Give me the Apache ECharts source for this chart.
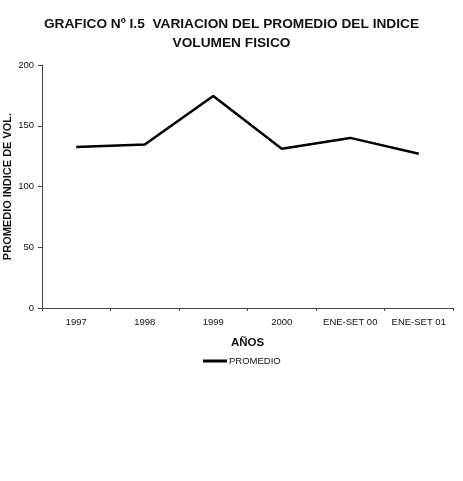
<!DOCTYPE html>
<html>
<head>
<meta charset="utf-8">
<script src="https://cdn.jsdelivr.net/npm/echarts@6/dist/echarts.min.js"></script>
<style>
  html, body { margin: 0; padding: 0; background: #fff; }
  #chart { width: 463px; height: 481px; }
</style>
</head>
<body>
<div id="chart"></div>
<script>
// datos
const categorias = ['1997', '1998', '1999', '2000', 'ENE-SET 00', 'ENE-SET 01']
const promedio = [132.5, 134.5, 174.5, 131, 140, 127]
const ticksY = [0, 50, 100, 150, 200]

const chart = echarts.init(document.getElementById('chart'))

const option = {
  backgroundColor: '#fff',
  textStyle: { fontFamily: 'Liberation Sans, Arial, sans-serif' },
  title: {
    text: 'GRAFICO Nº I.5  VARIACION DEL PROMEDIO DEL INDICE\nVOLUMEN FISICO',
    left: 'center',
    top: 10,
    textStyle: {
      fontSize: 13.7,
      fontWeight: 'bold',
      color: '#111',
      lineHeight: 19
    }
  },
  legend: {
    data: ['PROMEDIO'],
    top: 351,
    left: 198,
    itemWidth: 24,
    itemHeight: 3,
    icon: 'rect',
    itemGap: 2,
    textStyle: { fontSize: 9.5, color: '#111', padding: [0, 0, 0, -3] }
  },
  grid: {
    left: 42,
    right: 10,
    top: 65,
    bottom: 173,
    containLabel: false,
    outerBoundsMode: 'none'
  },
  xAxis: {
    type: 'category',
    data: categorias,
    boundaryGap: true,
    name: 'AÑOS',
    nameLocation: 'middle',
    nameGap: 29,
    nameMoveOverlap: false,
    nameTextStyle: { fontSize: 11.5, fontWeight: 'bold', color: '#111' },
    axisLine: { lineStyle: { color: '#444', width: 1 } },
    axisTick: { show: true, interval: 0, alignWithLabel: false, length: 3, lineStyle: { color: '#444' } },
    axisLabel: { interval: 0, hideOverlap: false, fontSize: 9.5, color: '#111', margin: 9 }
  },
  yAxis: {
    type: 'value',
    min: ticksY[0],
    max: ticksY[ticksY.length - 1],
    interval: 50,
    name: 'PROMEDIO INDICE DE VOL.',
    nameLocation: 'middle',
    nameGap: 29,
    nameMoveOverlap: false,
    nameTextStyle: { fontSize: 11, fontWeight: 'bold', color: '#111' },
    axisLine: { show: true, lineStyle: { color: '#444', width: 1 } },
    axisTick: { show: true, length: 4, lineStyle: { color: '#444' } },
    axisLabel: { fontSize: 9.5, color: '#111', margin: 8 },
    splitLine: { show: false }
  },
  series: [{
    name: 'PROMEDIO',
    type: 'line',
    data: promedio,
    symbol: 'none',
    lineStyle: { color: '#000', width: 2.5 },
    itemStyle: { color: '#000' }
  }]
}

chart.setOption(option)
</script>
</body>
</html>
